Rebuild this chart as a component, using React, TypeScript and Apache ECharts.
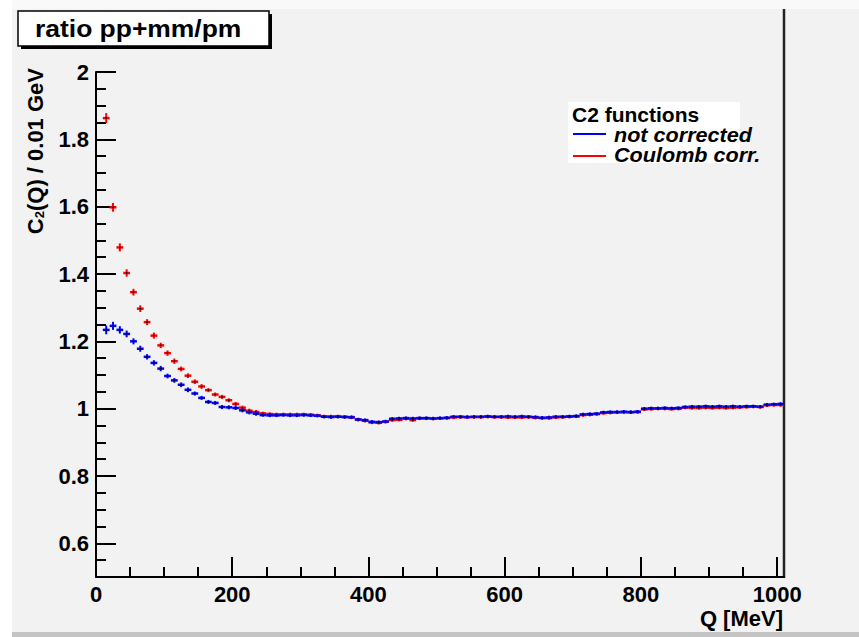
import React, { useEffect, useRef } from "react";
import * as echarts from "echarts";

// Bin centres of the 10 MeV bins (MeV)
const qBins = [
  15, 25, 35, 45, 55, 65, 75, 85, 95, 105,
  115, 125, 135, 145, 155, 165, 175, 185, 195, 205,
  215, 225, 235, 245, 255, 265, 275, 285, 295, 305,
  315, 325, 335, 345, 355, 365, 375, 385, 395, 405,
  415, 425, 435, 445, 455, 465, 475, 485, 495, 505,
  515, 525, 535, 545, 555, 565, 575, 585, 595, 605,
  615, 625, 635, 645, 655, 665, 675, 685, 695, 705,
  715, 725, 735, 745, 755, 765, 775, 785, 795, 805,
  815, 825, 835, 845, 855, 865, 875, 885, 895, 905,
  915, 925, 935, 945, 955, 965, 975, 985, 995, 1005,
];

const notCorrected = [
  1.234, 1.246, 1.234, 1.222, 1.200, 1.178, 1.154, 1.136, 1.119, 1.097,
  1.084, 1.071, 1.056, 1.045, 1.032, 1.020, 1.017, 1.005, 1.004, 1.002,
  0.995, 0.989, 0.985, 0.981, 0.980, 0.980, 0.981, 0.980, 0.980, 0.981,
  0.980, 0.979, 0.976, 0.975, 0.976, 0.975, 0.974, 0.968, 0.966, 0.961,
  0.960, 0.962, 0.970, 0.971, 0.972, 0.971, 0.972, 0.972, 0.971, 0.972,
  0.973, 0.976, 0.976, 0.975, 0.976, 0.976, 0.977, 0.976, 0.976, 0.977,
  0.976, 0.977, 0.976, 0.975, 0.973, 0.974, 0.976, 0.976, 0.977, 0.978,
  0.983, 0.984, 0.985, 0.989, 0.990, 0.990, 0.991, 0.990, 0.991, 1.000,
  1.001, 1.001, 1.002, 1.001, 1.002, 1.005, 1.006, 1.006, 1.007, 1.006,
  1.007, 1.006, 1.007, 1.006, 1.007, 1.007, 1.006, 1.012, 1.013, 1.014,
];

const notCorrectedErr = [
  0.010, 0.009, 0.008, 0.007, 0.006, 0.006, 0.005, 0.005, 0.005, 0.004,
  0.004, 0.004, 0.004, 0.003, 0.003, 0.003, 0.003, 0.003, 0.003, 0.003,
  0.003, 0.003, 0.003, 0.002, 0.002, 0.002, 0.002, 0.002, 0.002, 0.002,
  0.002, 0.002, 0.002, 0.002, 0.002, 0.002, 0.002, 0.002, 0.002, 0.002,
  0.002, 0.002, 0.002, 0.002, 0.002, 0.002, 0.002, 0.002, 0.002, 0.002,
  0.002, 0.002, 0.002, 0.002, 0.002, 0.002, 0.002, 0.002, 0.002, 0.002,
  0.002, 0.002, 0.002, 0.002, 0.002, 0.002, 0.002, 0.002, 0.002, 0.002,
  0.002, 0.002, 0.002, 0.002, 0.002, 0.002, 0.002, 0.002, 0.002, 0.002,
  0.002, 0.002, 0.002, 0.002, 0.002, 0.002, 0.002, 0.002, 0.002, 0.002,
  0.002, 0.002, 0.002, 0.002, 0.002, 0.002, 0.002, 0.002, 0.002, 0.002,
];

const coulombCorr = [
  1.863, 1.598, 1.479, 1.403, 1.346, 1.297, 1.257, 1.217, 1.188, 1.165,
  1.141, 1.118, 1.098, 1.080, 1.066, 1.055, 1.042, 1.035, 1.025, 1.014,
  1.003, 0.994, 0.990, 0.986, 0.984, 0.983, 0.983, 0.983, 0.983, 0.983,
  0.982, 0.980, 0.977, 0.977, 0.977, 0.976, 0.975, 0.967, 0.964, 0.959,
  0.958, 0.961, 0.966, 0.967, 0.970, 0.966, 0.971, 0.971, 0.970, 0.971,
  0.972, 0.974, 0.975, 0.975, 0.975, 0.975, 0.976, 0.975, 0.975, 0.974,
  0.974, 0.974, 0.975, 0.973, 0.972, 0.972, 0.974, 0.975, 0.976, 0.977,
  0.981, 0.982, 0.984, 0.987, 0.988, 0.989, 0.989, 0.989, 0.990, 0.998,
  0.999, 1.000, 1.000, 0.999, 1.000, 1.003, 1.002, 1.002, 1.003, 1.002,
  1.003, 1.002, 1.003, 1.004, 1.005, 1.006, 1.005, 1.010, 1.011, 1.011,
];

const coulombCorrErr = [
  0.012, 0.010, 0.009, 0.008, 0.007, 0.007, 0.006, 0.006, 0.005, 0.005,
  0.005, 0.004, 0.004, 0.004, 0.004, 0.003, 0.003, 0.003, 0.003, 0.003,
  0.003, 0.003, 0.003, 0.002, 0.002, 0.002, 0.002, 0.002, 0.002, 0.002,
  0.002, 0.002, 0.002, 0.002, 0.002, 0.002, 0.002, 0.002, 0.002, 0.002,
  0.002, 0.002, 0.002, 0.002, 0.002, 0.002, 0.002, 0.002, 0.002, 0.002,
  0.002, 0.002, 0.002, 0.002, 0.002, 0.002, 0.002, 0.002, 0.002, 0.002,
  0.002, 0.002, 0.002, 0.002, 0.002, 0.002, 0.002, 0.002, 0.002, 0.002,
  0.002, 0.002, 0.002, 0.002, 0.002, 0.002, 0.002, 0.002, 0.002, 0.002,
  0.002, 0.002, 0.002, 0.002, 0.002, 0.002, 0.002, 0.002, 0.002, 0.002,
  0.002, 0.002, 0.002, 0.002, 0.002, 0.002, 0.002, 0.002, 0.002, 0.002,
];

const xMajorTicks = [0, 200, 400, 600, 800, 1000];
const xMinorTicks = [50, 100, 150, 250, 300, 350, 450, 500, 550, 650, 700, 750, 850, 900, 950];
const yMajorTicks = [0.6, 0.8, 1, 1.2, 1.4, 1.6, 1.8, 2];
const yMinorTicks = [
  0.55, 0.65, 0.7, 0.75, 0.85, 0.9, 0.95, 1.05, 1.1, 1.15, 1.25, 1.3, 1.35,
  1.45, 1.5, 1.55, 1.65, 1.7, 1.75, 1.85, 1.9, 1.95,
];

const BIN_HALF = 5;
const FONT = "'Liberation Sans', Arial, Helvetica, sans-serif";

function makeRenderItem(color: string) {
  return (params: any, api: any) => {
    const q = api.value(0);
    const v = api.value(1);
    const e = api.value(2);
    const l = api.coord([q - BIN_HALF, v]);
    const r = api.coord([q + BIN_HALF, v]);
    const t = api.coord([q, v + e]);
    const b = api.coord([q, v - e]);
    const c = api.coord([q, v]);
    return {
      type: "group",
      children: [
        { type: "line", shape: { x1: l[0], y1: l[1], x2: r[0], y2: r[1] }, style: { stroke: color, lineWidth: 2.5 } },
        { type: "line", shape: { x1: c[0], y1: t[1] - 1, x2: c[0], y2: b[1] + 1 }, style: { stroke: color, lineWidth: 2 } },
        { type: "rect", shape: { x: c[0] - 0.75, y: c[1] - 0.75, width: 1.5, height: 1.5 }, style: { fill: "#000" } },
      ],
    };
  };
}

export default function App() {
  const ref = useRef<HTMLDivElement>(null);
  useEffect(() => {
    if (!ref.current) return;
    const chart = echarts.init(ref.current, null, { renderer: "svg" });
    const blueData = qBins.map((q, i) => [q, notCorrected[i], notCorrectedErr[i]]);
    const redData = qBins.map((q, i) => [q, coulombCorr[i], coulombCorrErr[i]]);
    const labelFmt = (v: number) => String(Math.round(v * 100) / 100);
    chart.setOption({
      animation: false,
      backgroundColor: "#f2f2f2",
      grid: { left: 96, right: 75, top: 72, bottom: 60, show: false },
      xAxis: [
        {
          type: "value", min: 0, max: 1010, position: "bottom",
          axisLine: { show: true, lineStyle: { color: "#000", width: 2 } },
          axisTick: { show: true, inside: true, length: 20, customValues: xMajorTicks, lineStyle: { color: "#000", width: 2 } },
          axisLabel: { show: true, customValues: xMajorTicks, formatter: labelFmt, margin: 6, color: "#000", fontSize: 22, fontWeight: "bold", fontFamily: FONT },
          splitLine: { show: false },
        },
        {
          type: "value", min: 0, max: 1010, position: "bottom",
          axisLine: { show: false },
          axisTick: { show: true, inside: true, length: 10, customValues: xMinorTicks, lineStyle: { color: "#000", width: 2 } },
          axisLabel: { show: false },
          splitLine: { show: false },
        },
      ],
      yAxis: [
        {
          type: "value", min: 0.5, max: 2, position: "left",
          axisLine: { show: true, lineStyle: { color: "#000", width: 2 } },
          axisTick: { show: true, inside: true, length: 20, customValues: yMajorTicks, lineStyle: { color: "#000", width: 2 } },
          axisLabel: { show: true, customValues: yMajorTicks, formatter: labelFmt, margin: 7, color: "#000", fontSize: 22, fontWeight: "bold", fontFamily: FONT },
          splitLine: { show: false },
        },
        {
          type: "value", min: 0.5, max: 2, position: "left",
          axisLine: { show: false },
          axisTick: { show: true, inside: true, length: 10, customValues: yMinorTicks, lineStyle: { color: "#000", width: 2 } },
          axisLabel: { show: false },
          splitLine: { show: false },
        },
      ],
      series: [
        { name: "Coulomb corr.", type: "custom", xAxisIndex: 0, yAxisIndex: 0, renderItem: makeRenderItem("#ff0000"), data: redData, encode: { x: 0, y: 1 }, clip: true, z: 2 },
        { name: "not corrected", type: "custom", xAxisIndex: 0, yAxisIndex: 0, renderItem: makeRenderItem("#0000ff"), data: blueData, encode: { x: 0, y: 1 }, clip: true, z: 3 },
      ],
      graphic: [
        // page borders
        { type: "rect", silent: true, z: -1, shape: { x: 0, y: 0, width: 859, height: 9 }, style: { fill: "#f9f9f9" } },
        { type: "rect", silent: true, z: -1, shape: { x: 0, y: 0, width: 12, height: 637 }, style: { fill: "#ffffff" } },
        { type: "rect", silent: true, z: -1, shape: { x: 12, y: 632, width: 847, height: 5 }, style: { fill: "#c4c4c4" } },
        // right frame line
        { type: "line", silent: true, shape: { x1: 784, y1: 9, x2: 784, y2: 578 }, style: { stroke: "#222", lineWidth: 2.5 } },
        // title box
        { type: "rect", silent: true, shape: { x: 21, y: 14, width: 251, height: 35 }, style: { fill: "#000" } },
        { type: "rect", silent: true, shape: { x: 18, y: 11, width: 251, height: 35 }, style: { fill: "#ffffff", stroke: "#000", lineWidth: 1.5 } },
        { type: "text", silent: true, x: 35, y: 29, scaleX: 1.15, style: { text: "ratio pp+mm/pm", font: `bold 23px ${FONT}`, fill: "#000", align: "left", verticalAlign: "middle" } },
        // legend
        { type: "rect", silent: true, shape: { x: 568, y: 102, width: 172, height: 61 }, style: { fill: "#ffffff" } },
        { type: "text", silent: true, x: 572, y: 114, style: { text: "C2 functions", font: `bold 21px ${FONT}`, fill: "#000", align: "left", verticalAlign: "middle" } },
        { type: "line", silent: true, shape: { x1: 573, y1: 134, x2: 606, y2: 134 }, style: { stroke: "#0000ff", lineWidth: 2 } },
        { type: "text", silent: true, x: 614, y: 135, scaleX: 1.08, style: { text: "not corrected", font: `italic bold 20px ${FONT}`, fill: "#000", align: "left", verticalAlign: "middle" } },
        { type: "line", silent: true, shape: { x1: 573, y1: 156, x2: 606, y2: 156 }, style: { stroke: "#ff0000", lineWidth: 2 } },
        { type: "text", silent: true, x: 614, y: 155, scaleX: 1.08, style: { text: "Coulomb corr.", font: `italic bold 20px ${FONT}`, fill: "#000", align: "left", verticalAlign: "middle" } },
        // axis titles
        {
          type: "text", silent: true, x: 35, y: 68, rotation: Math.PI / 2,
          style: {
            text: "C{sub|2}(Q) / 0.01 GeV",
            font: `bold 22px ${FONT}`, fill: "#000", align: "right", verticalAlign: "middle",
            rich: { sub: { fontSize: 13, fontWeight: "bold", fontFamily: FONT, verticalAlign: "bottom", padding: [8, 0, 0, 0], fill: "#000" } },
          },
        },
        { type: "text", silent: true, x: 783, y: 618, style: { text: "Q [MeV]", font: `bold 22px ${FONT}`, fill: "#000", align: "right", verticalAlign: "middle" } },
      ],
    });
    return () => chart.dispose();
  }, []);
  return <div ref={ref} style={{ position: "absolute", left: 0, top: 0, width: 859, height: 637 }} />;
}
